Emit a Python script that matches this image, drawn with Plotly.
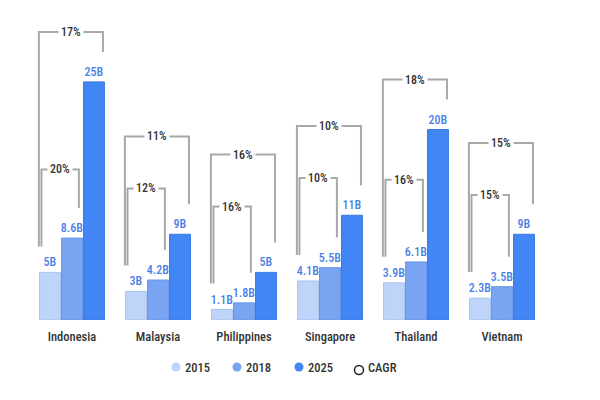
import plotly.graph_objects as go

countries = ["Indonesia", "Malaysia", "Philippines", "Singapore", "Thailand", "Vietnam"]
v2015 = [5, 3, 1.1, 4.1, 3.9, 2.3]
v2018 = [8.6, 4.2, 1.8, 5.5, 6.1, 3.5]
v2025 = [25, 9, 5, 11, 20, 9]
cagr_15_18 = ["20%", "12%", "16%", "10%", "16%", "15%"]
cagr_15_25 = ["17%", "11%", "16%", "10%", "18%", "15%"]
years = ["2015", "2018", "2025"]
legend_names = years + ["CAGR"]
colors = ["#bed4f8", "#78a4f2", "#4285f4"]
lines = ["#a9c3ee", "#6a97e6", "#3a78e0"]

W, H = 600, 400
ML, MR, MT, MB = 21, 63, 12, 88
YMAX = 31.5
plot_h = H - MT - MB
plot_w = W - ML - MR
ky = plot_h / YMAX               # px per data unit
FONT = "Roboto Condensed, Liberation Sans Narrow, Roboto"

def fmt(v):
    return ("%g" % v) + "B"

def px_to_paper_x(sx):
    return (sx - 8 - ML) / plot_w

def px_to_paper_y(sy):
    return (H - MB - (sy - 8)) / plot_h

fig = go.Figure()
for yr, vals, c, lc in zip(years, [v2015, v2018, v2025], colors, lines):
    fig.add_trace(go.Bar(
        x=countries, y=vals, name=yr, marker=dict(color=c, line=dict(color=lc, width=1)),
        text=[fmt(v) for v in vals], textposition="outside", cliponaxis=False,
        constraintext="none",
        textfont=dict(color="#4a80e6", size=12, family=FONT, weight=500),
        showlegend=False,
    ))

shapes = []
annotations = []
gray = "#a8a8a8"
for i in range(len(countries)):
    a, b, c = v2015[i], v2018[i], v2025[i]
    inner_top = max(a + 103 / ky, b + 55 / ky)
    outer_top = max(inner_top + 52 / ky, c + 50 / ky)
    left_bot = a + 26 / ky
    xl_out = i - 0.385
    xl_in = i - 0.355
    xr_in = i + 0.08
    xr_out = i + 0.36
    shapes.append(dict(type="path", xref="x", yref="y",
                       path=f"M {xl_in},{left_bot} L {xl_in},{inner_top} L {xr_in},{inner_top} L {xr_in},{b + 30 / ky}",
                       line=dict(color=gray, width=2)))
    shapes.append(dict(type="path", xref="x", yref="y",
                       path=f"M {xl_out},{left_bot} L {xl_out},{outer_top} L {xr_out},{outer_top} L {xr_out},{c + 30 / ky}",
                       line=dict(color=gray, width=2)))
    annotations.append(dict(x=(xl_in + xr_in) / 2, y=inner_top, xref="x", yref="y",
                            text=cagr_15_18[i], showarrow=False, bgcolor="white", borderpad=2,
                            font=dict(size=12, color="#333", family=FONT, weight=500)))
    annotations.append(dict(x=(xl_out + xr_out) / 2, y=outer_top, xref="x", yref="y",
                            text=cagr_15_25[i], showarrow=False, bgcolor="white", borderpad=2,
                            font=dict(size=12, color="#333", family=FONT, weight=500)))

# custom legend (round markers)
leg_x = [176, 237, 299, 359]
for k, name in enumerate(legend_names):
    sx = leg_x[k]
    sy = 367 if k < 3 else 370
    if k < 3:
        fill, lcol = colors[k], colors[k]
    else:
        fill, lcol = "rgba(0,0,0,0)", "#222"
    shapes.append(dict(type="circle", xref="paper", yref="paper",
                       xsizemode="pixel", ysizemode="pixel",
                       xanchor=px_to_paper_x(sx), yanchor=px_to_paper_y(sy),
                       x0=-4.5, x1=4.5, y0=-4.5, y1=4.5,
                       fillcolor=fill, line=dict(color=lcol, width=1.5 if k == 3 else 0)))
    annotations.append(dict(x=px_to_paper_x(sx + 7), y=px_to_paper_y(367), xref="paper", yref="paper",
                            xanchor="left", yanchor="middle", text=name, showarrow=False,
                            font=dict(size=12.5, color="#333", family=FONT, weight=500)))

fig.update_layout(
    width=W, height=H,
    margin=dict(l=ML, r=MR, t=MT, b=MB),
    plot_bgcolor="white", paper_bgcolor="white",
    barmode="group", bargap=0.233, bargroupgap=0.05,
    shapes=shapes, annotations=annotations,
    font=dict(family=FONT, color="#333"),
    showlegend=False,
    xaxis=dict(showgrid=False, showline=False, ticks="", zeroline=False,
               tickfont=dict(size=12.5, color="#333", family=FONT, weight=500),
               ticklabelstandoff=7,
               range=[-0.5, len(countries) - 0.5]),
    yaxis=dict(visible=False, range=[0, YMAX]),
)
fig.write_html("out.html")
